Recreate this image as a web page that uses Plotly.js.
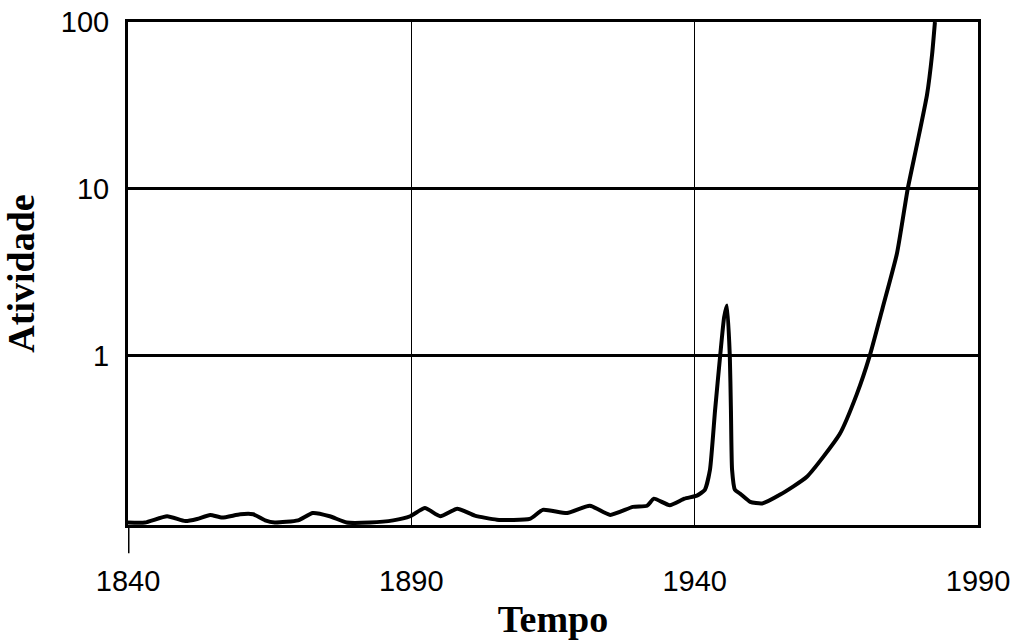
<!DOCTYPE html>
<html>
<head>
<meta charset="utf-8">
<script src="https://cdn.plot.ly/plotly-3.0.1.min.js"></script>
<style>html,body{margin:0;padding:0;background:#fff;}#chart{width:1016px;height:642px;}</style>
</head>
<body>
<div id="chart"></div>
<script>
// Years (x) and activity (log-scale y)
const years = [1840, 1843, 1846.9, 1850.1, 1852.2, 1854.5, 1856.6, 1859.8, 1862.1, 1864.2, 1865.9,
  1870.0, 1872.6, 1875.6, 1878.6, 1882.7, 1886.8, 1889.8, 1892.4, 1895.1, 1898.1, 1901.2,
  1905.1, 1910.9, 1913.2, 1917.5, 1921.5, 1925.1, 1929.1, 1931.6, 1932.8, 1935.6, 1938.2,
  1940.4, 1941.8, 1942.7, 1943.6, 1944.5, 1945.2, 1945.7, 1946.2, 1946.4, 1946.6, 1947.1,
  1948.0, 1949.8, 1951.9, 1955.1, 1959.8, 1965.6, 1968.6, 1970.9, 1973.2, 1975.7, 1977.6,
  1979.2, 1981.0, 1981.9, 1982.4];
const activity = [0.100, 0.100, 0.109, 0.102, 0.105, 0.111, 0.107, 0.112, 0.112, 0.103, 0.100,
  0.103, 0.114, 0.109, 0.100, 0.100, 0.103, 0.109, 0.122, 0.109, 0.121, 0.110,
  0.104, 0.105, 0.119, 0.114, 0.126, 0.111, 0.124, 0.126, 0.139, 0.127, 0.139,
  0.145, 0.157, 0.207, 0.471, 1.0, 1.7, 2.0, 1.0, 0.471, 0.207, 0.157,
  0.149, 0.133, 0.130, 0.147, 0.188, 0.339, 0.586, 1.0, 1.95, 4.1, 10,
  18.2, 36.6, 64, 100];
const xTicks = [1840, 1890, 1940, 1990];
const yTicks = [1, 10, 100];
const xLabel = 'Tempo';
const yLabel = 'Atividade';

const trace = {
  x: years, y: activity, type: 'scatter', mode: 'lines',
  line: {color: '#000', width: 4, shape: 'spline', smoothing: 0.5},
  hoverinfo: 'skip'
};

const tickFont = {family: 'Liberation Sans, Arial, sans-serif', size: 29, color: '#000'};
const titleFont = {family: 'Liberation Serif, Times New Roman, serif', size: 38, color: '#000', weight: 'bold'};

const layout = {
  width: 1016, height: 642,
  margin: {l: 128, r: 38, t: 22, b: 117},
  paper_bgcolor: '#fff', plot_bgcolor: '#fff',
  showlegend: false,
  xaxis: {
    range: [1840, 1990], tickvals: xTicks, ticktext: xTicks.map(String),
    showgrid: true, gridcolor: '#000', gridwidth: 1.5,
    showline: true, linecolor: '#000', linewidth: 3, mirror: true,
    ticks: '', ticklabelstandoff: 28, tickfont: tickFont,
    zeroline: false, automargin: false,
    title: {text: xLabel, font: titleFont, standoff: 10}
  },
  yaxis: {
    type: 'log', range: [-1.015, 2.0], tickvals: yTicks, ticktext: yTicks.map(String),
    showgrid: true, gridcolor: '#000', gridwidth: 3,
    showline: true, linecolor: '#000', linewidth: 3, mirror: true,
    ticks: '', ticklabelstandoff: 10, tickfont: tickFont,
    zeroline: false, automargin: false,
    title: {text: yLabel, font: titleFont, standoff: 16}
  },
  shapes: [{
    type: 'line', xref: 'x', yref: 'paper', x0: 1840, x1: 1840, y0: 0, y1: -0.056,
    line: {color: '#000', width: 3}
  }]
};

Plotly.newPlot('chart', [trace], layout, {staticPlot: true, displayModeBar: false});
</script>
</body>
</html>
